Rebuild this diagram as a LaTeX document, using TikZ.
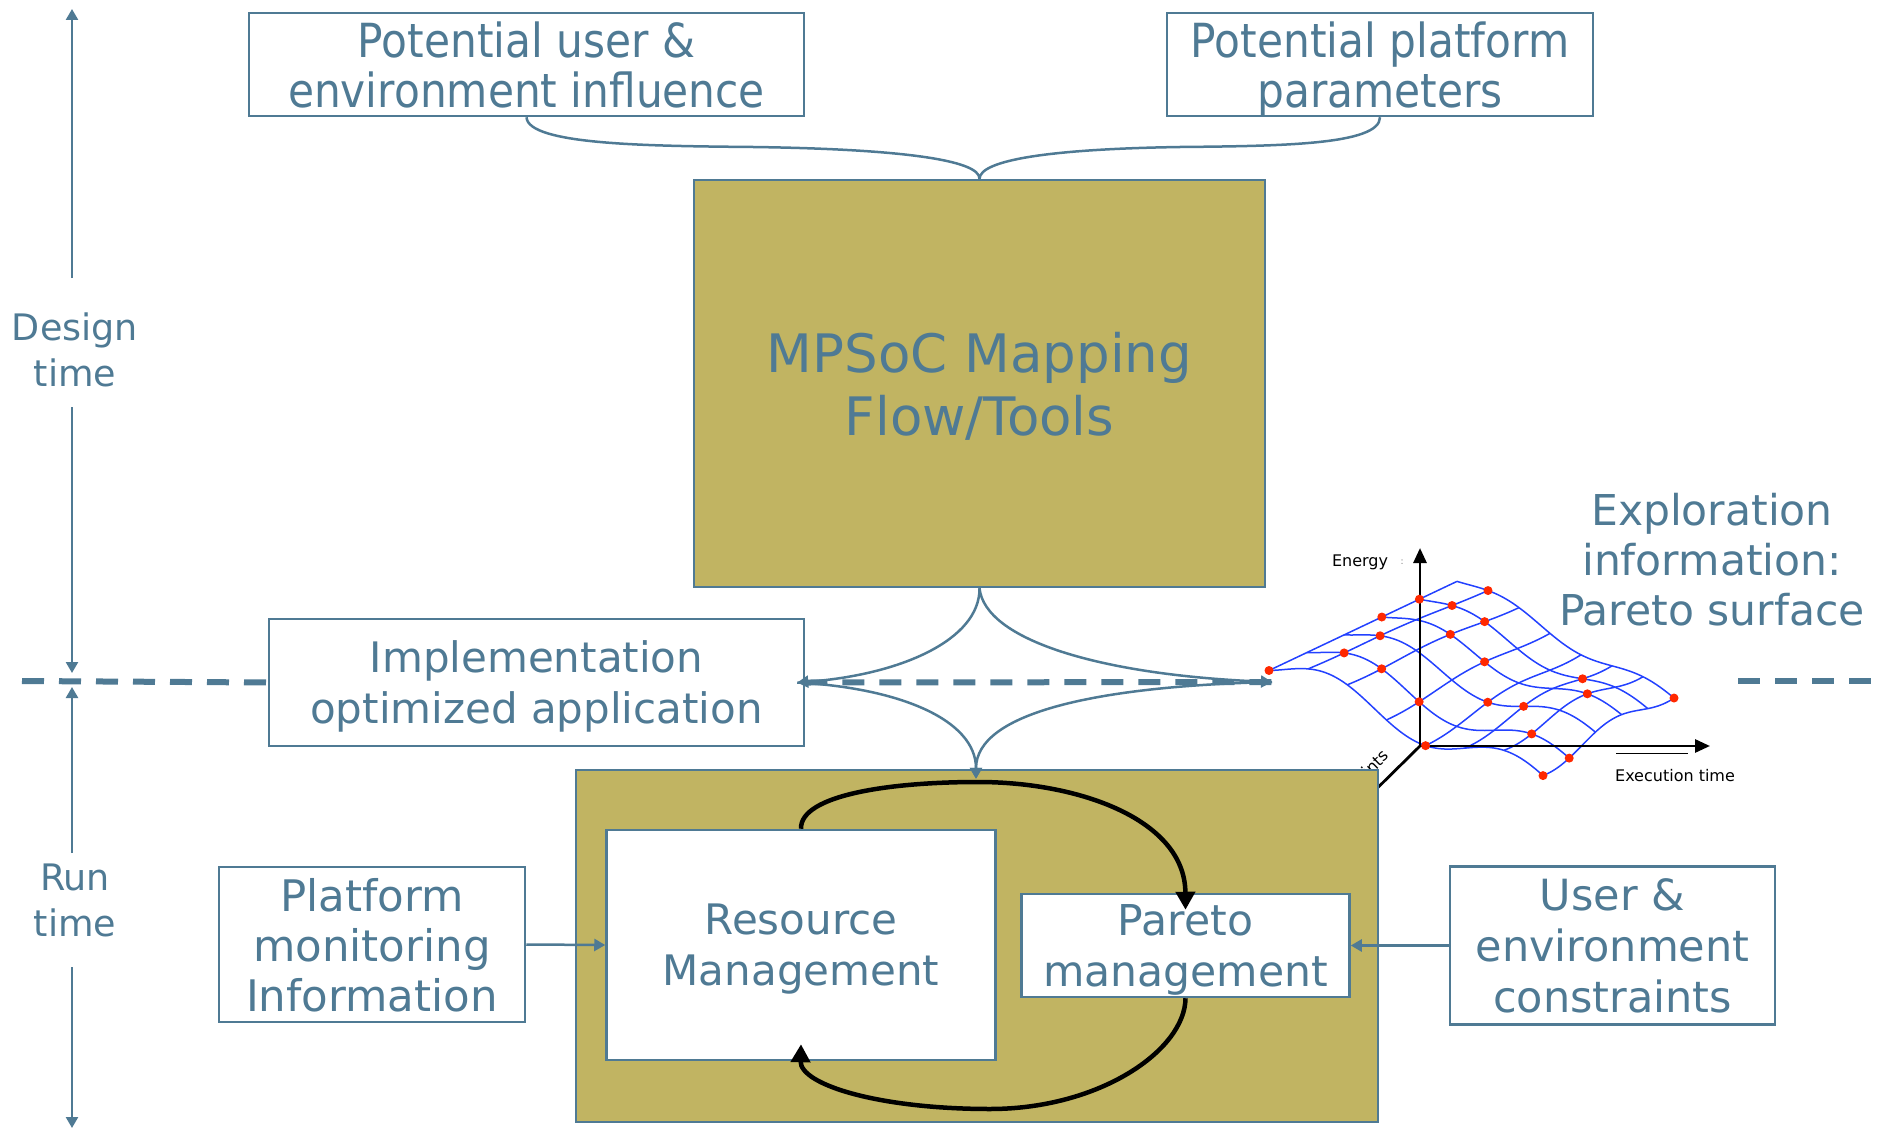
\documentclass[tikz,border=0pt]{standalone}
\usepackage{fontspec}
\setmainfont{DejaVu Sans}
\newfontfamily\slimfont{DejaVu Sans}[FakeStretch=0.9]
\usetikzlibrary{arrows.meta,calc}
\definecolor{slate}{RGB}{79,122,148}
\definecolor{olive}{RGB}{193,180,98}
\definecolor{meshblue}{RGB}{35,65,255}
\definecolor{dotred}{RGB}{255,40,0}
\begin{document}
\begin{tikzpicture}[x=1pt,y=-1pt,
  box/.style={draw=slate,line width=2.5pt,fill=white,text=slate,align=center,inner sep=0pt},
  olivebox/.style={box,fill=olive},
  caption/.style={text=slate,align=center,inner sep=0pt},
  conn/.style={draw=slate,line width=2.5pt},
  flow/.style={conn,-{Triangle[length=11pt,width=12pt]}},
  phase/.style={draw=slate,line width=6pt,dash pattern=on 22pt off 15pt},
  loopline/.style={draw=black,line width=4.5pt,-{Triangle[length=18pt,width=19pt]}},
  mesh/.style={draw=meshblue,line width=1.5pt},
  axis/.style={draw=black,line width=2.8pt},
  small/.style={font=\fontsize{16}{18}\selectfont,inner sep=0pt},
  declare function={
    wv(\s,\t)=15*sin(545*\t+150)*(1-0.55*\s)+8*sin(400*\s+60)*\t;
    sxf(\s,\t)=1269+188*\s+274*\t-57*\s*\t;
    syf(\s,\t)=663-85*\s+112*\t+3*\s*\t+wv(\s,\t);
  }]
\useasboundingbox (0,0) rectangle (1877,1129);

% ---- Pareto surface sketch ----
\foreach \i in {0,...,5}
  \draw[mesh] plot[variable=\t,domain=0:1,samples=40,smooth] ({sxf(\i/5,\t)},{syf(\i/5,\t)});
\foreach \j in {0,...,7}
  \draw[mesh] plot[variable=\s,domain=0:1,samples=30,smooth] ({sxf(\s,\j/7)},{syf(\s,\j/7)});

\coordinate (O) at (1420,746);
\coordinate (Etop) at (1420,548);
\coordinate (Xend) at (1710,746);
\coordinate (Zend) at (1350,815);
\draw[axis,-{Triangle[length=15pt,width=13pt]}] (O) -- (Etop);
\draw[axis,-{Triangle[length=15pt,width=13pt]}] (O) -- (Xend);
\draw[axis] (O) -- (Zend);
\draw[black,line width=1pt] (1616,753) -- (1688,753);

\node[small,anchor=base] (elab) at (1360,566) {Energy};
\node[font=\fontsize{9}{9}\selectfont,text=gray,inner sep=0pt] (ecolon) at (1402,562) {:};
\node[small,anchor=base] (xlab) at (1675,781) {Execution time};
\node[small,rotate=44,anchor=base east] (zlab) at (1390,757) {ints};

\foreach \i/\j in {0/0,1/1,1/2,2/1,3/0,4/0,4/1,5/1,4/2,3/2,1/3,3/3,2/4,2/5,4/5,3/6,5/7,1/6,1/7,0/7,0/4}
  \fill[dotred] ({sxf(\i/5,\j/7)},{syf(\i/5,\j/7)}) circle[radius=4.5];

% ---- boxes ----
\node[box,minimum width=555pt,minimum height=103pt,text depth=-6pt,font=\slimfont\fontsize{47}{50}\selectfont]
  (infl) at (526.5,64.5) {Potential user \&\\environment influence};
\node[box,minimum width=426pt,minimum height=103pt,text depth=-4pt,font=\slimfont\fontsize{47}{50}\selectfont]
  (params) at (1380,64.5) {Potential platform\\parameters};
\node[olivebox,minimum width=571pt,minimum height=407pt,text depth=0pt,font=\fontsize{53}{63}\selectfont]
  (mpsoc) at (979.5,383.5) {MPSoC Mapping\\Flow/Tools};
\node[box,minimum width=535pt,minimum height=127pt,text depth=0pt,font=\fontsize{42}{51}\selectfont]
  (impl) at (536.5,682.5) {Implementation\\optimized application};
\node[olivebox,minimum width=802pt,minimum height=352pt] (rt) at (977,946) {};
\node[box,minimum width=389pt,minimum height=230pt,text depth=-1pt,font=\fontsize{42}{51}\selectfont]
  (res) at (801,945) {Resource\\Management};
\node[box,minimum width=328pt,minimum height=103pt,text depth=-1pt,font=\fontsize{42.5}{51}\selectfont]
  (par) at (1185.5,945.5) {Pareto\\management};
\node[box,minimum width=306pt,minimum height=155pt,text depth=-3pt,font=\fontsize{43.5}{50}\selectfont]
  (mon) at (372,944.5) {Platform\\monitoring\\Information};
\node[box,minimum width=325pt,minimum height=158pt,font=\fontsize{43}{51}\selectfont]
  (usr) at (1612.5,945.5) {User \&\\environment\\constraints};

\node[caption,font=\fontsize{36.5}{46}\selectfont] (design) at (75,350) {Design\\time};
\node[caption,font=\fontsize{36.5}{46}\selectfont] (run) at (75,900) {Run\\time};
\node[caption,font=\fontsize{42.5}{50}\selectfont] (expl) at (1712,560) {Exploration\\information:\\Pareto surface};

% ---- design time / run time axis ----
\coordinate (t0) at (72,9);
\coordinate (t1) at (72,278);
\coordinate (t2) at (72,407);
\coordinate (t3) at (72,673);
\coordinate (t4) at (72,687);
\coordinate (t5) at (72,853);
\coordinate (t6) at (72,967);
\coordinate (t7) at (72,1128);
\draw[flow] (t1) -- (t0);
\draw[flow] (t2) -- (t3);
\draw[flow] (t5) -- (t4);
\draw[flow] (t6) -- (t7);

% ---- boundary between design time and run time ----
\coordinate (dL) at (22,681);
\coordinate (surf) at (1272,682);
\coordinate (dR1) at (1738,681);
\coordinate (dR2) at (1877,681);
\draw[phase] (dL) -- (impl.west);
\draw[phase] (impl.east) -- (surf);
\draw[phase] (dR1) -- (dR2);

% ---- inputs of the mapping flow ----
\draw[conn] (infl.south) .. controls (528,145) and (650,146) .. (753,147)
  .. controls (900,149) and (980,160) .. (mpsoc.north);
\draw[conn] (params.south) .. controls (1380,145) and (1280,146) .. (1180,147)
  .. controls (1050,149) and (980,160) .. (mpsoc.north);

% ---- outputs of the mapping flow ----
\coordinate (implIn) at ($(impl.east)+(-8,0)$);
\coordinate (rtIn) at ($(rt.north)+(-1,10)$);
\draw[flow] (mpsoc.south) .. controls (980,640) and (900,675) .. (implIn);
\draw[flow] (mpsoc.south) .. controls (985,640) and (1100,675) .. (surf);
\draw[flow] (implIn) .. controls (900,688) and (976,720) .. (rtIn);
\draw[flow] (surf) .. controls (1100,686) and (976,712) .. (rtIn);

% ---- run-time inputs ----
\draw[flow] (mon.east) -- (res.west);
\draw[flow] (usr.west) -- (par.east);

% ---- run-time control loop ----
\draw[loopline] (res.north) .. controls (800,795) and (890,782) .. (978,782)
  .. controls (1080,782) and (1185,820) .. ($(par.north)+(0,17)$);
\draw[loopline] (par.south) .. controls (1185,1050) and (1100,1109) .. (990,1109)
  .. controls (880,1109) and (800,1085) .. ($(res.south)+(0,-17)$);
\end{tikzpicture}
\end{document}
